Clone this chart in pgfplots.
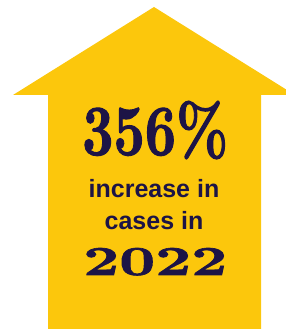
\documentclass[border=0pt]{standalone}
\usepackage{fontspec}
\usepackage{graphicx}
\usepackage{pgfplots}
\pgfplotsset{compat=1.18}
\newfontfamily\sansbold{Liberation Sans}[BoldFont={* Bold}]
\newfontfamily\display{lmroman10-bold.otf}[FakeBold=1.6]
\definecolor{arrowyellow}{HTML}{FCC70C}
\definecolor{navy}{HTML}{1D1446}
\begin{document}
\begin{tikzpicture}
\begin{axis}[
  width=286bp, height=329bp, scale only axis,
  hide axis, xmin=0, xmax=286, ymin=0, ymax=329,
  clip=true,
]
\addplot[draw=none, forget plot] coordinates {(0,0) (286,329)};
\addplot[fill=arrowyellow, draw=none] coordinates {
  (48,0) (261,0) (261,234) (295,234) (154,322) (13,234) (48,234) (48,0)
} -- cycle;
\node[anchor=base west, inner sep=0pt, text=navy] at (axis cs:82,174)
  {\resizebox{146bp}{54bp}{\display 356\%}};
\node[anchor=base, inner sep=0pt, text=navy, font=\sansbold\bfseries\fontsize{25bp}{30bp}\selectfont] at (axis cs:154,131) {increase in};
\node[anchor=base, inner sep=0pt, text=navy, font=\sansbold\bfseries\fontsize{25bp}{30bp}\selectfont] at (axis cs:154,99) {cases in};
\node[anchor=base west, inner sep=0pt, text=navy] at (axis cs:83,54)
  {\resizebox{144bp}{27bp}{\display 2022}};
\end{axis}
\end{tikzpicture}
\end{document}
